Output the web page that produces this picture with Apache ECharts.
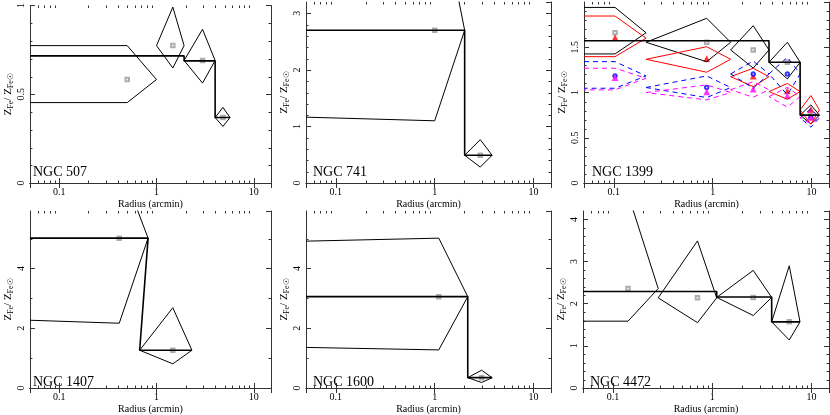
<!DOCTYPE html>
<html>
<head>
<meta charset="utf-8">
<script src="https://cdn.jsdelivr.net/npm/echarts@6/dist/echarts.min.js"></script>
<style>
  html, body { margin: 0; padding: 0; background: #fff; }
  #chart { width: 830px; height: 415px; }
</style>
</head>
<body>
<div id="chart"></div>
<script>
var xMin = 0.05, xMax = 15;
var xMinorTicks = [0.06, 0.07, 0.08, 0.09, 0.2, 0.3, 0.4, 0.5, 0.6, 0.7, 0.8, 0.9, 2, 3, 4, 5, 6, 7, 8, 9];

// bins: lo/mid/hi radius, Fe value with upper and lower limit; lo = 0 means first bin (runs off the left edge)
// NGC 507
var n507Lo = [0, 1.0, 1.92, 4.0];
var n507Mid = [0.5, 1.47, 2.97, 4.81];
var n507Hi = [1.0, 1.92, 4.0, 5.69];
var n507Fe = [0.583, 0.774, 0.69, 0.369];
var n507Up = [0.774, 0.991, 0.866, 0.426];
var n507Dn = [0.453, 0.648, 0.563, 0.319];
var n507Edge = [0.774, 0.453];
var n507StepLo = [0.05, 1.92, 4.0];
var n507StepHi = [1.92, 4.0, 5.69];
var n507StepY = [0.716, 0.688, 0.369];

// NGC 741
var n741Lo = [0, 2.01];
var n741Mid = [1.0, 2.89];
var n741Hi = [2.01, 3.81];
var n741Fe = [2.70, 0.491];
var n741Up = [5.39, 0.766];
var n741Dn = [1.10, 0.281];
var n741Edge = [5.45, 1.164];
var n741StepLo = [0.05, 2.01];
var n741StepHi = [2.01, 3.81];
var n741StepY = [2.70, 0.491];

// NGC 1399 (four fits share the bins)
var n1399Lo = [0, 0.212, 1.52, 3.71, 7.66];
var n1399Mid = [0.103, 0.87, 2.57, 5.69, 9.84];
var n1399Hi = [0.212, 1.52, 3.71, 7.66, 12.0];
var n1399BlackFe = [1.66, 1.555, 1.47, 1.334, 0.75];
var n1399BlackUp = [1.94, 1.82, 1.738, 1.555, 0.863];
var n1399BlackDn = [1.426, 1.34, 1.27, 1.15, 0.654];
var n1399RedFe = [1.60, 1.367, 1.175, 1.01, 0.808];
var n1399RedUp = [1.845, 1.506, 1.268, 1.10, 0.966];
var n1399RedDn = [1.396, 1.224, 1.065, 0.926, 0.65];
var n1399BlueFe = [1.183, 1.055, 1.205, 1.205, 0.72];
var n1399BlueUp = [1.341, 1.183, 1.348, 1.389, 0.82];
var n1399BlueDn = [1.047, 0.944, 1.047, 0.974, 0.617];
var n1399MagFe = [1.158, 1.0, 1.03, 0.955, 0.72];
var n1399MagUp = [1.268, 1.084, 1.12, 1.058, 0.80];
var n1399MagDn = [1.029, 0.918, 0.948, 0.838, 0.655];
var n1399StepLo = [0.05, 3.71, 7.66];
var n1399StepHi = [3.71, 7.66, 12.0];
var n1399StepY = [1.572, 1.334, 0.75];

// NGC 1407
var n1407Lo = [0, 0.671];
var n1407Mid = [0.414, 1.47];
var n1407Hi = [0.819, 2.31];
var n1407Fe = [5.02, 1.265];
var n1407Up = [7.57, 2.69];
var n1407Dn = [2.17, 0.81];
var n1407Edge = [7.67, 2.27];
var n1407StepLo = [0.05, 0.671];
var n1407StepHi = [0.819, 2.31];
var n1407StepY = [5.02, 1.265];

// NGC 1600
var n1600Lo = [0, 2.16];
var n1600Mid = [1.10, 2.98];
var n1600Hi = [2.16, 3.81];
var n1600Fe = [3.06, 0.346];
var n1600Up = [5.02, 0.595];
var n1600Dn = [1.276, 0.184];
var n1600Edge = [4.92, 1.36];
var n1600StepLo = [0.05, 2.16];
var n1600StepHi = [2.16, 3.81];
var n1600StepY = [3.06, 0.346];

// NGC 4472
var n4472Lo = [0, 0.286, 1.11, 3.97];
var n4472Mid = [0.142, 0.711, 2.59, 5.97];
var n4472Hi = [0.286, 1.11, 3.97, 7.66];
var n4472Fe = [2.36, 2.14, 2.15, 1.57];
var n4472Up = [4.6, 3.49, 2.79, 2.90];
var n4472Dn = [1.586, 1.55, 1.72, 1.14];
var n4472Edge = [4.6, 1.586];
var n4472StepLo = [0.05, 1.11, 3.97];
var n4472StepHi = [1.11, 3.97, 7.66];
var n4472StepY = [2.29, 2.16, 1.57];

var font = "Liberation Serif";
var grids = [
  { left: 26, top: 2, width: 245, height: 181 },
  { left: 306, top: 2, width: 245, height: 181 },
  { left: 584, top: 2, width: 245, height: 181 },
  { left: 26, top: 211, width: 245, height: 183 },
  { left: 306, top: 211, width: 245, height: 183 },
  { left: 583, top: 211, width: 246, height: 183 }
];

function fit(lo, mid, hi, fe, up, dn, edge, color, dash, symbol) {
  return { lo: lo, mid: mid, hi: hi, fe: fe, up: up, dn: dn, edge: edge, color: color, dash: dash, symbol: symbol };
}

var panels = [
  { name: "NGC 507", yMax: 1, yInterval: 0.5, yMinor: 0.1, showMax: true, label: [33, 165],
    fits: [fit(n507Lo, n507Mid, n507Hi, n507Fe, n507Up, n507Dn, n507Edge, "#000", "solid", "emptyRect")],
    step: [n507StepLo, n507StepHi, n507StepY] },
  { name: "NGC 741", yMax: 3.2, yInterval: 1, yMinor: 0.2, showMax: false, label: [313, 165],
    fits: [fit(n741Lo, n741Mid, n741Hi, n741Fe, n741Up, n741Dn, n741Edge, "#000", "solid", "emptyRect")],
    step: [n741StepLo, n741StepHi, n741StepY] },
  { name: "NGC 1399", yMax: 2, yInterval: 0.5, yMinor: 0.1, showMax: false, label: [592, 165],
    fits: [
      fit(n1399Lo, n1399Mid, n1399Hi, n1399BlackFe, n1399BlackUp, n1399BlackDn, [n1399BlackUp[0], n1399BlackDn[0]], "#000", "solid", "emptyRect"),
      fit(n1399Lo, n1399Mid, n1399Hi, n1399RedFe, n1399RedUp, n1399RedDn, [n1399RedUp[0], n1399RedDn[0]], "#ff0000", "solid", "emptyTriangle"),
      fit(n1399Lo, n1399Mid, n1399Hi, n1399BlueFe, n1399BlueUp, n1399BlueDn, [n1399BlueUp[0], n1399BlueDn[0]], "#0000ff", [5, 4], "emptyCircle"),
      fit(n1399Lo, n1399Mid, n1399Hi, n1399MagFe, n1399MagUp, n1399MagDn, [n1399MagUp[0], n1399MagDn[0]], "#ff00ff", [5, 4], "emptyTriangle")
    ],
    step: [n1399StepLo, n1399StepHi, n1399StepY] },
  { name: "NGC 1407", yMax: 5.93, yInterval: 2, yMinor: 1, showMax: false, label: [33, 375],
    fits: [fit(n1407Lo, n1407Mid, n1407Hi, n1407Fe, n1407Up, n1407Dn, n1407Edge, "#000", "solid", "emptyRect")],
    step: [n1407StepLo, n1407StepHi, n1407StepY] },
  { name: "NGC 1600", yMax: 5.93, yInterval: 2, yMinor: 1, showMax: false, label: [313, 375],
    fits: [fit(n1600Lo, n1600Mid, n1600Hi, n1600Fe, n1600Up, n1600Dn, n1600Edge, "#000", "solid", "emptyRect")],
    step: [n1600StepLo, n1600StepHi, n1600StepY] },
  { name: "NGC 4472", yMax: 4.2, yInterval: 1, yMinor: 0.2, showMax: false, label: [590, 375],
    fits: [fit(n4472Lo, n4472Mid, n4472Hi, n4472Fe, n4472Up, n4472Dn, n4472Edge, "#000", "solid", "emptyRect")],
    step: [n4472StepLo, n4472StepHi, n4472StepY] }
];

// diamond per bin, first bin is open to the left edge
function binShape(f, i) {
  if (f.lo[i] === 0) {
    return [[xMin, f.edge[0]], [f.mid[i], f.up[i]], [f.hi[i], f.fe[i]], [f.mid[i], f.dn[i]], [xMin, f.edge[1]]];
  }
  return [[f.lo[i], f.fe[i]], [f.mid[i], f.up[i]], [f.hi[i], f.fe[i]], [f.mid[i], f.dn[i]], [f.lo[i], f.fe[i]]];
}

function stepLine(s) {
  var pts = [];
  for (var i = 0; i < s[2].length; i++) {
    pts.push([s[0][i], s[2][i]]);
    pts.push([s[1][i], s[2][i]]);
  }
  return pts;
}

// tick values between the labelled ones
function minorList(p) {
  var out = [];
  var n = Math.round(p.yMax / p.yMinor);
  for (var k = 1; k <= n; k++) {
    var v = +(k * p.yMinor).toFixed(4);
    if (v < p.yMax && Math.abs(v / p.yInterval - Math.round(v / p.yInterval)) > 1e-6) out.push(v);
  }
  return out;
}

var frame = { lineStyle: { color: "#333", width: 1 } };
var tickStyle = { color: "#333", width: 1 };
var xAxes = [], yAxes = [], series = [], titles = [];

panels.forEach(function (p, g) {
  xAxes.push({
    gridIndex: g, type: "log", logBase: 10, min: xMin, max: xMax,
    name: "Radius (arcmin)", nameLocation: "middle", nameGap: 16,
    nameTextStyle: { fontFamily: font, fontSize: 10, color: "#000" },
    axisLine: frame, axisTick: { inside: true, length: 5, lineStyle: tickStyle },
    axisLabel: { showMinLabel: false, showMaxLabel: false, margin: 4, fontFamily: font, fontSize: 10, color: "#000" },
    splitLine: { show: false }
  });
  xAxes.push({
    gridIndex: g, type: "log", logBase: 10, min: xMin, max: xMax, position: "top",
    axisLine: frame, axisTick: { inside: true, length: 5, lineStyle: tickStyle },
    axisLabel: { show: false }, splitLine: { show: false }
  });
  yAxes.push({
    gridIndex: g, type: "value", min: 0, max: p.yMax, interval: p.yInterval,
    name: "Z{s|Fe}/ Z{s|Fe☉}", nameLocation: "middle", nameGap: 14, nameRotate: 90,
    nameTextStyle: {
      fontFamily: font, fontSize: 11, color: "#000", lineHeight: 14,
      rich: { s: { fontFamily: font, fontSize: 8, color: "#000", lineHeight: 14, verticalAlign: "bottom", padding: [5, 0, 0, 0] } }
    },
    axisLine: frame, axisTick: { inside: true, length: 5, lineStyle: tickStyle },
    axisLabel: { rotate: 90, showMaxLabel: p.showMax, margin: 4, fontFamily: font, fontSize: 10, color: "#000" },
    splitLine: { show: false }
  });
  yAxes.push({
    gridIndex: g, type: "value", min: 0, max: p.yMax, interval: p.yInterval, position: "right",
    axisLine: frame, axisTick: { inside: true, length: 5, lineStyle: tickStyle },
    axisLabel: { show: false }, splitLine: { show: false }
  });

  titles.push({
    text: p.name, left: p.label[0], top: p.label[1], padding: 0,
    textStyle: { fontFamily: font, fontSize: 14, fontWeight: "normal", color: "#000" }
  });

  // minor ticks of the log axis (2..9 in every decade), top and bottom
  series.push({
    type: "custom", xAxisIndex: 2 * g, yAxisIndex: 2 * g, silent: true, clip: false,
    data: xMinorTicks.map(function (v) { return [v, 0]; }),
    renderItem: function (params, api) {
      var cs = params.coordSys;
      var x = Math.round(api.coord([api.value(0), 0])[0]) + 0.5;
      return {
        type: "group", children: [
          { type: "line", shape: { x1: x, y1: cs.y + cs.height, x2: x, y2: cs.y + cs.height - 2.5 }, style: { stroke: "#333", lineWidth: 1 } },
          { type: "line", shape: { x1: x, y1: cs.y, x2: x, y2: cs.y + 2.5 }, style: { stroke: "#333", lineWidth: 1 } }
        ]
      };
    }
  });
  // minor ticks of the value axis, left and right, pointing inwards
  series.push({
    type: "custom", xAxisIndex: 2 * g, yAxisIndex: 2 * g, silent: true, clip: false,
    data: minorList(p).map(function (v) { return [1, v]; }),
    renderItem: function (params, api) {
      var cs = params.coordSys;
      var y = Math.round(api.coord([1, api.value(1)])[1]) + 0.5;
      return {
        type: "group", children: [
          { type: "line", shape: { x1: cs.x, y1: y, x2: cs.x + 2.5, y2: y }, style: { stroke: "#333", lineWidth: 1 } },
          { type: "line", shape: { x1: cs.x + cs.width, y1: y, x2: cs.x + cs.width - 2.5, y2: y }, style: { stroke: "#333", lineWidth: 1 } }
        ]
      };
    }
  });

  p.fits.forEach(function (f) {
    for (var i = 0; i < f.mid.length; i++) {
      series.push({
        type: "line", xAxisIndex: 2 * g, yAxisIndex: 2 * g, silent: true,
        data: binShape(f, i), symbol: "none",
        lineStyle: { color: f.color, width: 1, type: f.dash }
      });
    }
    series.push({
      type: "scatter", xAxisIndex: 2 * g, yAxisIndex: 2 * g, silent: true,
      data: f.mid.map(function (m, i) { return [m, f.fe[i]]; }),
      symbol: f.symbol, symbolSize: 3.5,
      itemStyle: { color: f.color === "#000" ? "#999" : f.color, borderWidth: 0.7, opacity: 0.8 }
    });
  });

  series.push({
    type: "line", xAxisIndex: 2 * g, yAxisIndex: 2 * g, silent: true,
    data: stepLine(p.step), symbol: "none",
    lineStyle: { color: "#000", width: 1.6 }
  });
});

var chart = echarts.init(document.getElementById("chart"));
chart.setOption({
  animation: false,
  backgroundColor: "#fff",
  title: titles,
  grid: grids,
  xAxis: xAxes,
  yAxis: yAxes,
  series: series
});
</script>
</body>
</html>
